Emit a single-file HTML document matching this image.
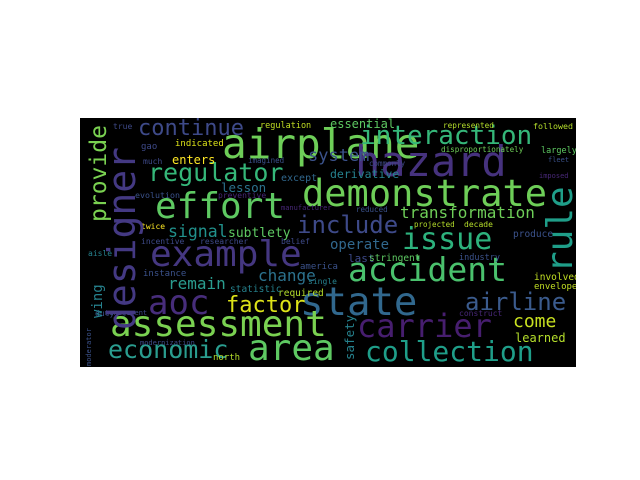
<!DOCTYPE html>
<html><head><meta charset="utf-8"><style>
html,body{margin:0;padding:0;background:#fff;}
#fig{position:relative;width:640px;height:480px;overflow:hidden;background:#fff;}
#cloud{position:absolute;left:80px;top:118px;width:496px;height:249px;background:#000;overflow:hidden;}
.w{position:absolute;white-space:nowrap;line-height:1;font-family:"DejaVu Sans Mono","Liberation Mono",monospace;}
.v{transform-origin:0 0;transform:rotate(-90deg);}
</style></head><body>
<div id="fig">
<div id="cloud"></div>
</div>
<script>
const words=["airplane","hazard","interaction","demonstrate","effort","regulator","continue","example","include","issue","transformation","accident","state","airline","carrier","collection","assessment","area","economic","aoc","factor","remain","change","signal","subtlety","system","derivative","essential","operate","come","learned","enters","indicated","regulation","gao","lesson","evolution","except","imagined","much","twice","preventive","true","manufacturer","researcher","belief","incentive","disproportionately","represented","followed","largely","commonly","reduced","projected","decade","produce","imposed","fleet","last","stringent","industry","involved","envelope","construct","america","single","required","statistic","instance","aisle","duty","management","north","modernization","designer","provide","rule","wing","safety","moderator"];
const xs=[222,355,360,302,155,148,138,150,297,402,400,348,300,465,357,365,110,248,108,148,226,168,258,168,228,308,330,330,330,513,515,172,175,260,141,221,135,281,248,143,141,218,113,281,200,281,141,441,443,533,541,369,356,414,464,513,539,548,348,369,459,534,534,459,300,308,278,230,143,88,95,105,213,140,103,88,543,91,344,86];
const ys=[124,141,123,175,189,160,118,237,213,225,205,253,283,290,310,338,307,331,337,286,295,276,268,224,227,148,169,118,238,313,332,154,140,122,143,182,191,174,157,158,223,192,123,205,238,238,238,146,122,122,147,160,206,221,221,230,173,157,253,254,254,273,283,310,263,278,289,285,270,250,310,310,354,340,330,222,273,318,360,366];
const sizes=[41,42,26,37,36,25,22,36,24,30,16,33,39,24,32,28,36,36,25,34,22,16,16,16.5,13,17,11.5,12,14,18,12,12,9,8.5,9,12.5,8.3,10,7.5,8,8,8,8,7,8,8,8,7.6,7.7,8.3,8.5,7.5,7.5,7.5,8,9.5,7,7,11,9.5,8.5,9.5,9,8,9,8,9.5,9.5,9,8,8,7,9,7,38,23,36,14,12.5,7];
const colors=["#6ece58","#46327e","#35b779","#6ece58","#5ec962","#35b779","#3e4a89","#453781","#3e4a89","#2db27d","#6ece58","#4ac16d","#31688e","#3b5b8d","#471e6f","#1f9e89","#7ad151","#5ec962","#2a9d8f","#472d7b","#dde318","#2a9d8f","#2c728e","#21918c","#5ec962","#3b528b","#26828e","#5ec962","#31688e","#c8e020","#b5de2b","#fde725","#dde318","#c2df23","#3e4a89","#2c728e","#3b528b","#31688e","#3b528b","#3e4a89","#fde725","#482878","#3e4a89","#482878","#3e4a89","#3e4a89","#3e4a89","#6ece58","#b5de2b","#b5de2b","#5ec962","#3e4a89","#3b528b","#b5de2b","#b5de2b","#3b528b","#482878","#3b528b","#3e4a89","#5ec962","#3b528b","#c2df23","#c2df23","#482878","#3b528b","#26828e","#b5de2b","#26828e","#3b528b","#26828e","#3b528b","#3e4a89","#b5de2b","#3e4a89","#443983","#7ad151","#1f9e89","#26828e","#26828e","#3b528b"];
const vertical=["designer","provide","rule","wing","safety","moderator"];
const cloud=document.getElementById('cloud');
for(let i=0;i<words.length;i++){
  const s=document.createElement('span');
  s.className='w'+(vertical.includes(words[i])?' v':'');
  s.textContent=words[i];
  s.style.left=(xs[i]-80)+'px';
  s.style.top=(ys[i]-118)+'px';
  s.style.fontSize=sizes[i]+'px';
  s.style.color=colors[i];
  
  
  cloud.appendChild(s);
}
</script>
</body></html>
